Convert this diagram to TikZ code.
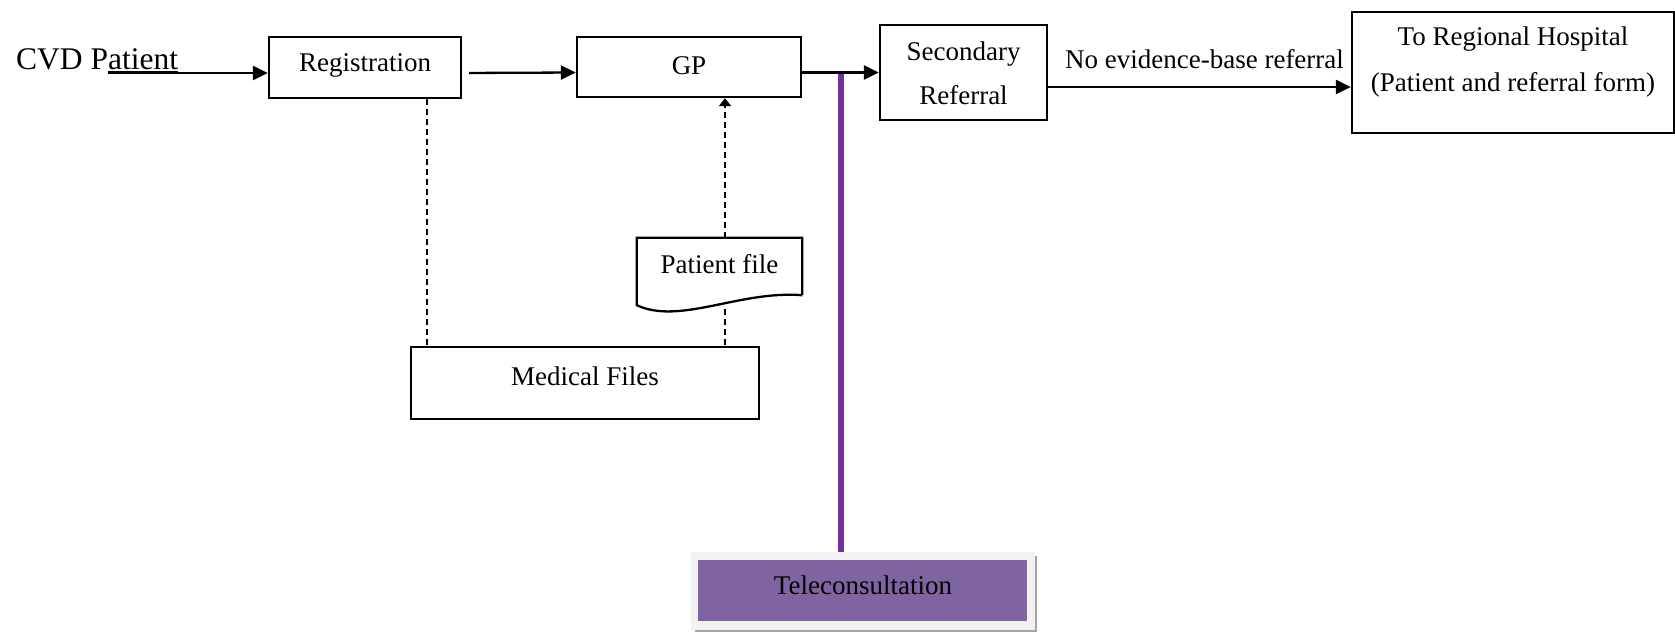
\documentclass[tikz,border=0pt]{standalone}
\usepackage{fontspec}
\setmainfont{Liberation Serif}
\usetikzlibrary{arrows.meta,calc}
\definecolor{linkpurple}{HTML}{7030A0}
\definecolor{telefill}{HTML}{8064A2}
\definecolor{teleframe}{HTML}{F2F2F2}
\definecolor{teleshade}{HTML}{A6A6A6}
\begin{document}
\begin{tikzpicture}[x=1pt,y=-1pt,
  every node/.style={font=\fontsize{27}{32}\selectfont},
  box/.style={draw, line width=2.3pt, inner sep=0pt},
  txt/.style={anchor=base, inner sep=0pt},
  flow/.style={line width=2.3pt, -{Triangle[length=15pt,width=14pt]}},
  link/.style={line width=2.2pt, dash pattern=on 6pt off 4pt},
  linkarrow/.style={link, -{Triangle[length=8pt,width=12pt]}},
  tap/.style={linkpurple, line width=5.5pt}]
  \useasboundingbox (0,0) rectangle (1675,632);
  \fill[white] (0,0) rectangle (1675,632);

  % patient entry
  \node[txt, anchor=base west, font=\fontsize{31.5}{36}\selectfont] (cvd) at (16,69) {CVD P\underline{atient}};
  \coordinate (cvdtail) at (108,73);

  % main process boxes
  \node[box, minimum width=192pt, minimum height=61pt,
        label={[txt,yshift=2pt]center:Registration}] (reg) at (365,67.5) {};
  \node[box, minimum width=224pt, minimum height=60pt,
        label={[txt,yshift=1.5pt]center:GP}] (gp) at (689,67) {};
  \node[box, minimum width=167pt, minimum height=95pt,
        label={[txt,yshift=18.7pt]center:Secondary},
        label={[txt,yshift=-22.5pt]center:Referral}] (sec) at (963.5,72.5) {};
  \node[box, minimum width=322pt, minimum height=121pt,
        label={[txt,yshift=33.8pt]center:To Regional Hospital},
        label={[txt,yshift=-12.7pt]center:(Patient and referral form)}] (hosp) at (1513,72.5) {};

  % records
  \node[box, minimum width=348pt, minimum height=72pt,
        label={[txt,yshift=6.5pt]center:Medical Files}] (med) at (585,383) {};
  \node[minimum width=165pt, minimum height=57pt, inner sep=0pt,
        label={[txt,yshift=2.5pt]center:Patient file}] (pfile) at (719.5,266.5) {};
  \draw[line width=2.3pt, line join=miter]
    (pfile.south east) -- (pfile.north east) -- (pfile.north west)
    -- ([yshift=-10pt]pfile.south west)
    .. controls ([shift={(43pt,-30pt)}]pfile.south west) and ([shift={(103pt,5pt)}]pfile.south west) .. (pfile.south east);

  % teleconsultation
  \node[minimum width=344pt, minimum height=78pt, inner sep=0pt, fill=teleframe,
        path picture={\fill[telefill] ([shift={(7pt,-8pt)}]path picture bounding box.north west)
                        rectangle ([shift={(-8pt,9pt)}]path picture bounding box.south east);},
        label={[txt,yshift=6pt]center:Teleconsultation}] (tele) at (863,591) {};
  \draw[teleshade, line width=1.5pt]
    ([shift={(0.75pt,-4pt)}]tele.north east) -- ([shift={(0.75pt,-0.75pt)}]tele.south east)
    -- ([shift={(4pt,-0.75pt)}]tele.south west);

  % connectors
  \coordinate (tapoff) at (841,72.5);
  \draw[tap] (tapoff) -- (tapoff |- tele.north);

  \draw[flow] (cvdtail) -- ([yshift=-5.5pt]reg.west);
  \draw[flow, shorten <=7pt] ([yshift=-5.5pt]reg.east) -- ([yshift=-5.5pt]gp.west);
  \draw[flow] ([yshift=-5.5pt]gp.east) -- (sec.west);
  \path ([yshift=-14.5pt]sec.east) coordinate (s);
  \draw[flow] (s) -- (s -| hosp.west)
    node[midway, txt, xshift=5pt, yshift=19pt] (nolabel) {No evidence-base referral};

  \path ([xshift=62pt]reg.south) coordinate (r);
  \draw[link] (r) -- (r |- med.north);
  \path ([xshift=5.5pt]pfile.north) coordinate (p);
  \draw[linkarrow] (p) -- (p |- gp.south);
  \draw[link] ($(p |- pfile.south)+(0,14)$) -- (p |- med.north);
\end{tikzpicture}
\end{document}
